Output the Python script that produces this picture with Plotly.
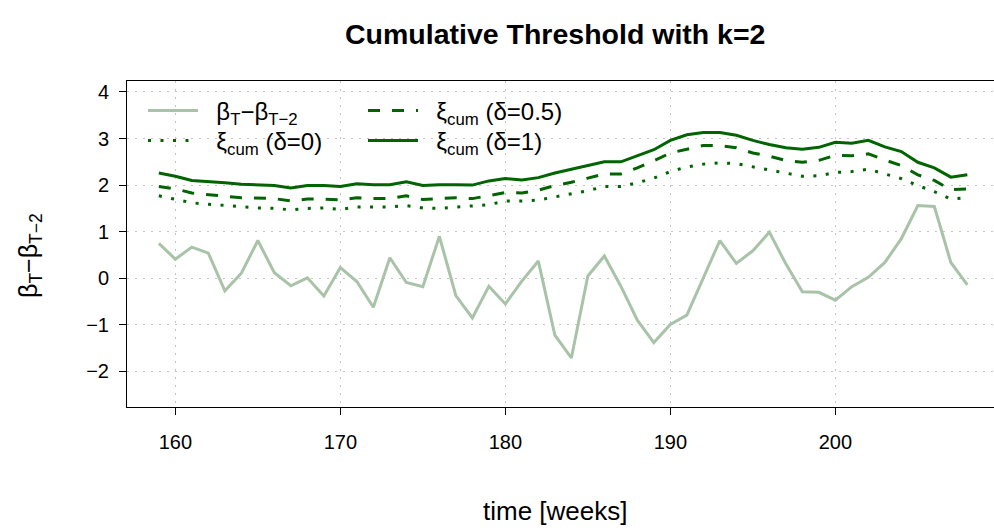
import plotly.graph_objects as go

weeks = list(range(159, 209))

beta_diff = [0.75, 0.41, 0.67, 0.54, -0.27, 0.11, 0.81, 0.12, -0.16, 0.01,
             -0.38, 0.23, -0.07, -0.62, 0.44, -0.09, -0.18, 0.90, -0.37, -0.85,
             -0.17, -0.55, -0.06, 0.37, -1.22, -1.71, 0.05, 0.48, -0.17, -0.90,
             -1.38, -0.99, -0.79, 0.00, 0.81, 0.32, 0.59, 0.99, 0.31, -0.29,
             -0.30, -0.47, -0.18, 0.02, 0.34, 0.85, 1.56, 1.54, 0.34, -0.14]

xi_d0 = [1.77, 1.70, 1.62, 1.59, 1.56, 1.53, 1.51, 1.50, 1.47, 1.50,
         1.51, 1.48, 1.53, 1.53, 1.53, 1.56, 1.51, 1.50, 1.53, 1.55,
         1.58, 1.66, 1.66, 1.68, 1.75, 1.81, 1.88, 1.97, 1.97, 2.05,
         2.15, 2.29, 2.39, 2.45, 2.48, 2.46, 2.39, 2.32, 2.25, 2.19,
         2.20, 2.27, 2.29, 2.34, 2.24, 2.14, 1.99, 1.86, 1.70, 1.73]

xi_d05 = [1.97, 1.92, 1.83, 1.79, 1.76, 1.73, 1.72, 1.71, 1.66, 1.70,
          1.70, 1.68, 1.73, 1.71, 1.71, 1.77, 1.69, 1.71, 1.73, 1.71,
          1.77, 1.84, 1.83, 1.89, 1.99, 2.06, 2.15, 2.24, 2.24, 2.37,
          2.52, 2.69, 2.77, 2.85, 2.85, 2.80, 2.69, 2.62, 2.53, 2.49,
          2.53, 2.64, 2.63, 2.67, 2.54, 2.42, 2.22, 2.10, 1.90, 1.92]

xi_d1 = [2.26, 2.19, 2.10, 2.08, 2.05, 2.02, 2.00, 1.99, 1.94, 1.99,
         1.99, 1.97, 2.03, 2.01, 2.01, 2.07, 1.99, 2.01, 2.01, 2.00,
         2.09, 2.14, 2.11, 2.16, 2.26, 2.34, 2.42, 2.50, 2.50, 2.63,
         2.76, 2.96, 3.08, 3.13, 3.13, 3.07, 2.96, 2.87, 2.80, 2.77,
         2.81, 2.92, 2.90, 2.96, 2.82, 2.72, 2.49, 2.37, 2.17, 2.22]

x_ticks = [160, 170, 180, 190, 200]
y_ticks = [-2, -1, 0, 1, 2, 3, 4]

DARK = "#006400"
LIGHT = "#a8c3a8"
FONT = "Liberation Sans, Arial, sans-serif"
PAD = "\u00a0\u00a0"

fig = go.Figure()
fig.add_trace(go.Scatter(x=weeks, y=beta_diff, mode="lines",
                         name=PAD + "β<sub>T</sub>−β<sub>T−2</sub>",
                         line=dict(color=LIGHT, width=3), legend="legend"))
fig.add_trace(go.Scatter(x=weeks, y=xi_d0, mode="lines",
                         name=PAD + "ξ<sub>cum</sub> (δ=0)",
                         line=dict(color=DARK, width=3, dash="3px,9.5px"), legend="legend2"))
fig.add_trace(go.Scatter(x=weeks, y=xi_d05, mode="lines",
                         name=PAD + "ξ<sub>cum</sub> (δ=0.5)",
                         line=dict(color=DARK, width=3, dash="12px,12px"), legend="legend3"))
fig.add_trace(go.Scatter(x=weeks, y=xi_d1, mode="lines",
                         name=PAD + "ξ<sub>cum</sub> (δ=1)",
                         line=dict(color=DARK, width=3), legend="legend4"))

W, H = 994, 530
L, R, T, B = 127, 0, 81, 123
pw, ph = W - L - R, H - T - B

def px_x(px):
    return (px - L) / pw

def px_y(py):
    return (H - B - py) / ph

legend_common = dict(bgcolor="rgba(0,0,0,0)", font=dict(family=FONT, size=24, color="black"),
                     xanchor="left", yanchor="middle", itemwidth=50, borderwidth=0)

GRID = "#c4c4c4"

fig.update_layout(
    width=W, height=H,
    margin=dict(l=L, r=R, t=T, b=B),
    paper_bgcolor="white", plot_bgcolor="white",
    font=dict(family=FONT, size=20, color="black"),
    showlegend=True,
    legend=dict(x=px_x(143), y=px_y(111), **legend_common),
    legend2=dict(x=px_x(143), y=px_y(141), **legend_common),
    legend3=dict(x=px_x(363), y=px_y(111), **legend_common),
    legend4=dict(x=px_x(363), y=px_y(141), **legend_common),
    xaxis=dict(range=[157.07, 157.07 + pw / 16.5], tickvals=x_ticks,
               ticks="outside", ticklen=7, tickcolor="black", tickwidth=1,
               showline=True, linecolor="black", linewidth=1, mirror=True,
               showgrid=True, gridcolor=GRID, griddash="2px,6px", gridwidth=1,
               zeroline=False, tickfont=dict(size=20), ticklabelstandoff=10),
    yaxis=dict(range=[-2.762, 4.234], tickvals=y_ticks,
               ticktext=[("−" + str(-v)) if v < 0 else str(v) for v in y_ticks],
               ticks="outside", ticklen=7, tickcolor="black", tickwidth=1,
               showline=True, linecolor="black", linewidth=1, mirror=False,
               showgrid=True, gridcolor=GRID, griddash="2px,6px", gridwidth=1,
               zeroline=False, tickfont=dict(size=20), ticklabelstandoff=6),
    annotations=[
        dict(text="<b>Cumulative Threshold with k=2</b>", xref="paper", yref="paper",
             x=px_x(555), y=px_y(34), xanchor="center", yanchor="middle",
             showarrow=False, font=dict(size=28.5)),
        dict(text="time [weeks]", xref="paper", yref="paper",
             x=px_x(555), y=px_y(511), xanchor="center", yanchor="middle",
             showarrow=False, font=dict(size=26)),
        dict(text="β<sub>T</sub>−β<sub>T−2</sub>", xref="paper", yref="paper",
             x=px_x(30), y=px_y(256), xanchor="center", yanchor="middle",
             textangle=-90, showarrow=False, font=dict(size=25)),
    ],
)

fig.write_html("out.html")
